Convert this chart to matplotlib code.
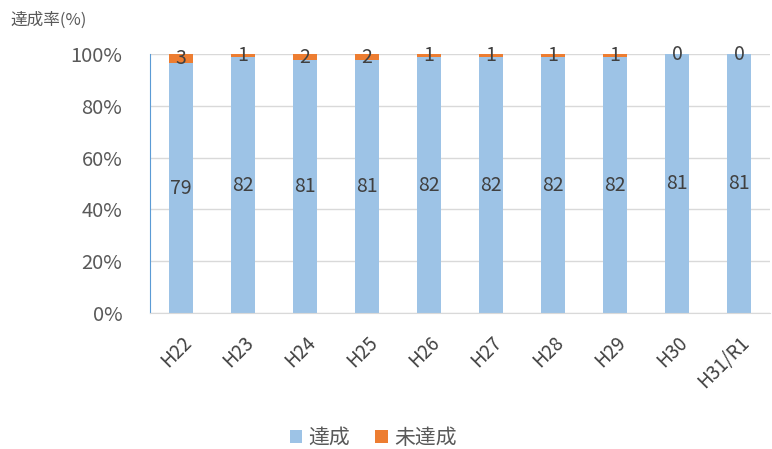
import matplotlib.pyplot as plt
import numpy as np

plt.rcParams['font.family'] = ['Noto Sans CJK JP', 'DejaVu Sans']

# data
years = ['H22', 'H23', 'H24', 'H25', 'H26', 'H27', 'H28', 'H29', 'H30', 'H31/R1']
achieved = [79, 82, 81, 81, 82, 82, 82, 82, 81, 81]
not_achieved = [3, 1, 2, 2, 1, 1, 1, 1, 0, 0]

blue = '#9dc3e6'
orange = '#ed7d31'
text_c = '#404040'

a = np.array(achieved, dtype=float)
n = np.array(not_achieved, dtype=float)
total = a + n
a_pct = a / total * 100
n_pct = n / total * 100
x = np.arange(len(years))

fig = plt.figure(figsize=(7.72, 4.49), dpi=100)
ax = fig.add_axes([150 / 772, 1 - 313 / 449, 620 / 772, 259 / 449])

bars_a = ax.bar(x, a_pct, width=0.4, color=blue, label='達成', zorder=2)
bars_n = ax.bar(x, n_pct, width=0.4, bottom=a_pct, color=orange, label='未達成', zorder=2)

for i in range(len(years)):
    ax.text(x[i], a_pct[i] / 2, str(achieved[i]), ha='center', va='center',
            fontsize=14, color=text_c, zorder=3)
    ax.text(x[i], a_pct[i] + n_pct[i] / 2, str(not_achieved[i]), ha='center', va='center',
            fontsize=14, color=text_c, zorder=3)

ax.set_xlim(-0.5, len(years) - 0.5)
ax.set_ylim(0, 100)
ax.set_yticks([0, 20, 40, 60, 80, 100])
ax.set_yticklabels(['0%', '20%', '40%', '60%', '80%', '100%'])
ax.set_xticks(x)
ax.set_xticklabels(years, rotation=45, ha='right', rotation_mode='anchor')
ax.tick_params(axis='y', length=0, labelsize=14.5, labelcolor='#595959', pad=20)
ax.tick_params(axis='x', length=0, labelsize=13.5, labelcolor=text_c, pad=14)
ax.grid(axis='y', color='#d9d9d9', linewidth=1, zorder=0)
for s in ['top', 'right']:
    ax.spines[s].set_visible(False)
ax.spines['left'].set_color('#5b9bd5')
ax.spines['bottom'].set_color('#d9d9d9')

fig.text(10 / 772, 1 - 20 / 449, '達成率(%)', fontsize=12, color='#595959', va='center')

fig.legend(handles=[bars_a, bars_n], loc='center', bbox_to_anchor=(373 / 772, 1 - 438 / 449),
           ncol=2, frameon=False, fontsize=15, handlelength=0.6, handleheight=0.6,
           handletextpad=0.3, columnspacing=1.2, labelcolor='#595959')

fig.savefig('out.png', dpi=100)
